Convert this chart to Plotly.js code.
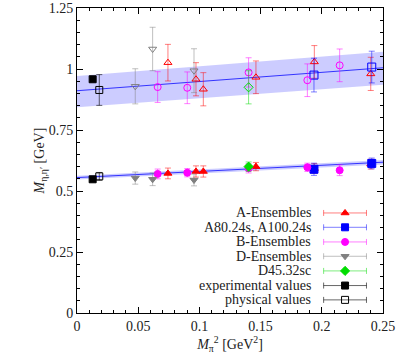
<!DOCTYPE html>
<html>
<head>
<meta charset="utf-8">
<script src="https://cdn.plot.ly/plotly-3.0.1.min.js"></script>
<style>
  html, body { margin: 0; padding: 0; background: #fff; }
  #chart { width: 399px; height: 358px; }
</style>
</head>
<body>
<div id="chart"></div>
<script>
// M_pi^2 [GeV^2] per ensemble, eta' (upper) and eta (lower) masses [GeV]
const aX = [0.0743, 0.0972, 0.1032, 0.1462, 0.1939, 0.2400];
const aEtaP = [1.026, 0.958, 0.917, 0.966, 1.029, 0.980];
const aEtaPErr = [0.075, 0.068, 0.068, 0.067, 0.067, 0.068];
const aEta = [0.572, 0.580, 0.580, 0.600, 0.592, 0.610];
const aEtaErr = [0.022, 0.023, 0.023, 0.017, 0.020, 0.020];

const a80X = [0.1936, 0.2408];
const a80EtaP = [0.975, 1.008];
const a80EtaPErr = [0.069, 0.065];
const a80Eta = [0.589, 0.613];
const a80EtaErr = [0.025, 0.022];

const bX = [0.0659, 0.0901, 0.1402, 0.1882, 0.2146];
const bEtaP = [0.926, 0.923, 0.986, 0.954, 1.015];
const bEtaPErr = [0.063, 0.065, 0.060, 0.067, 0.067];
const bEta = [0.570, 0.575, 0.593, 0.597, 0.585];
const bEtaErr = [0.020, 0.017, 0.019, 0.017, 0.022];

const dX = [0.0476, 0.0618, 0.0956];
const dEtaP = [0.929, 1.082, 0.993];
const dEtaPErr = [0.072, 0.089, 0.090];
const dEta = [0.553, 0.548, 0.545];
const dEtaErr = [0.025, 0.026, 0.024];

const d45X = [0.1402];
const d45EtaP = [0.925];
const d45EtaPErr = [0.068];
const d45Eta = [0.600];
const d45EtaErr = [0.019];

const expX = [0.0128];
const expEtaP = [0.958];
const expEta = [0.548];

const physX = [0.0182];
const physEtaP = [0.914];
const physEtaPErr = [0.063];
const physEta = [0.560];
const physEtaErr = [0.016];

// chiral fits with error bands
const fitX = [0, 0.25];
const fitEtaP = [0.911, 1.005];
const fitEtaPLo = [0.843, 0.935];
const fitEtaPHi = [0.971, 1.071];
const fitEta = [0.555, 0.618];
const fitEtaLo = [0.547, 0.609];
const fitEtaHi = [0.563, 0.627];

const legendNames = ['A-Ensembles', 'A80.24s, A100.24s', 'B-Ensembles', 'D-Ensembles',
  'D45.32sc', 'experimental values', 'physical values'];

const FONT = 'Liberation Serif, DejaVu Serif, serif';

function errTrace(x, y, err, color, errColor, symbol, size) {
  const t = {
    type: 'scatter', mode: 'markers', x, y,
    marker: { symbol, size, color, line: { color, width: 1 } },
    hoverinfo: 'skip'
  };
  if (err) t.error_y = { type: 'data', array: err, color: errColor, thickness: 1, width: 3 };
  return t;
}

function band(x, lo, hi, mid) {
  return [
    { type: 'scatter', mode: 'lines', x, y: lo, line: { width: 0 }, hoverinfo: 'skip' },
    { type: 'scatter', mode: 'lines', x, y: hi, line: { width: 0 }, fill: 'tonexty', fillcolor: 'rgba(120,120,255,0.38)', hoverinfo: 'skip' },
    { type: 'scatter', mode: 'lines', x, y: mid, line: { color: '#3333ff', width: 1 }, hoverinfo: 'skip' }
  ];
}

const styles = [
  { c: '#ff0000', e: 'rgba(255,0,0,0.5)', open: 'triangle-up-open', fill: 'triangle-up', s: 7 },
  { c: '#0000ff', e: 'rgba(0,0,255,0.5)', open: 'square-open', fill: 'square', s: 8 },
  { c: '#ff00ff', e: 'rgba(255,0,255,0.5)', open: 'circle-open', fill: 'circle', s: 7 },
  { c: '#808080', e: 'rgba(128,128,128,0.5)', open: 'triangle-down-open', fill: 'triangle-down', s: 7 },
  { c: '#00dd00', e: 'rgba(0,220,0,0.5)', open: 'diamond-open', fill: 'diamond', s: 7 },
  { c: '#000000', e: 'rgba(0,0,0,0.6)', open: 'square', fill: 'square', s: 7 },
  { c: '#000000', e: 'rgba(0,0,0,0.6)', open: 'square-open', fill: 'square-open', s: 7 }
];

const groups = [
  [aX, aEtaP, aEtaPErr, aEta, aEtaErr],
  [a80X, a80EtaP, a80EtaPErr, a80Eta, a80EtaErr],
  [bX, bEtaP, bEtaPErr, bEta, bEtaErr],
  [dX, dEtaP, dEtaPErr, dEta, dEtaErr],
  [d45X, d45EtaP, d45EtaPErr, d45Eta, d45EtaErr],
  [expX, expEtaP, null, expEta, null],
  [physX, physEtaP, physEtaPErr, physEta, physEtaErr]
];

const traces = [...band(fitX, fitEtaPLo, fitEtaPHi, fitEtaP), ...band(fitX, fitEtaLo, fitEtaHi, fitEta)];
groups.forEach((g, i) => {
  const st = styles[i];
  traces.push(errTrace(g[0], g[1], g[2], st.c, st.e, st.open, st.s));
  traces.push(errTrace(g[0], g[3], g[4], st.c, st.e, st.fill, st.s));
});

// key, drawn on a hidden overlay axis in [0,1] units
const keyY = [0.328, 0.281, 0.233, 0.186, 0.138, 0.090, 0.043];
const annotations = [];
legendNames.forEach((name, i) => {
  const st = styles[i];
  traces.push({
    type: 'scatter', mode: 'markers', x: [0.876], y: [keyY[i]], xaxis: 'x2', yaxis: 'y2',
    marker: { symbol: st.fill, size: 7, color: st.c, line: { color: st.c, width: 1 } },
    error_x: { type: 'data', array: [0.07], color: st.e, thickness: 1, width: 3 },
    hoverinfo: 'skip'
  });
  annotations.push({
    xref: 'x2', yref: 'y2', x: 0.772, y: keyY[i], text: name, showarrow: false,
    xanchor: 'right', yanchor: 'middle', font: { family: FONT, size: 14, color: '#222' }
  });
});

const axisCommon = {
  showline: true, linecolor: '#000', linewidth: 1, mirror: 'ticks',
  ticks: 'inside', ticklen: 6, tickcolor: '#000', showgrid: false, zeroline: false,
  tickfont: { family: FONT, size: 14, color: '#222' }
};

const layout = {
  width: 399, height: 358,
  paper_bgcolor: '#fff', plot_bgcolor: '#fff',
  margin: { l: 77, r: 16, t: 8, b: 45 },
  showlegend: false,
  font: { family: FONT, color: '#222' },
  xaxis: {
    ...axisCommon, range: [0, 0.25], dtick: 0.05, tick0: 0,
    minor: { ticks: 'inside', ticklen: 3, dtick: 0.01, tickcolor: '#000' },
    title: { text: '<i>M</i><sub>π</sub><sup>2</sup> [GeV<sup>2</sup>]', font: { family: FONT, size: 14 }, standoff: 6 }
  },
  yaxis: {
    ...axisCommon, range: [0, 1.25], dtick: 0.25, tick0: 0,
    minor: { ticks: 'inside', ticklen: 3, dtick: 0.05, tickcolor: '#000' },
    title: { text: '<i>M</i><sub>η,η′</sub> [GeV]', font: { family: FONT, size: 14 }, standoff: 0 }
  },
  xaxis2: { overlaying: 'x', anchor: 'y2', range: [0, 1], visible: false, fixedrange: true },
  yaxis2: { overlaying: 'y', anchor: 'x2', range: [0, 1], visible: false, fixedrange: true },
  annotations
};

Plotly.newPlot('chart', traces, layout, { displayModeBar: false, staticPlot: true });
</script>
</body>
</html>
